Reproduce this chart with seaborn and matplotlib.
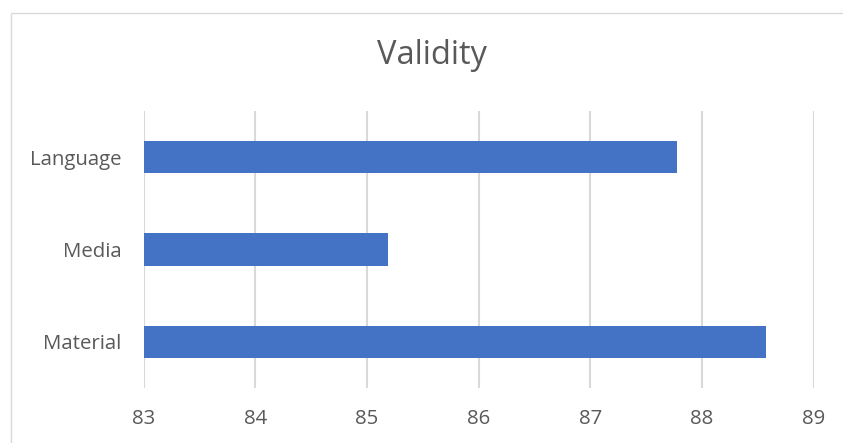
import matplotlib
matplotlib.use("Agg")
import matplotlib.pyplot as plt
import seaborn as sns
import pandas as pd
from matplotlib.patches import Rectangle

categories = ["Language", "Media", "Material"]
values = [87.78, 85.19, 88.57]
x_ticks = [83, 84, 85, 86, 87, 88, 89]
title = "Validity"

df = pd.DataFrame({"category": categories, "value": values})

sns.set_theme(style="white")
plt.rcParams["font.family"] = ["Open Sans", "DejaVu Sans"]

W, H = 843, 443
fig = plt.figure(figsize=(W / 100, H / 100), dpi=100)
ax = fig.add_axes([143.5 / W, 1 - 388 / H, (813.7 - 143.5) / W, (388 - 111) / H])

sns.barplot(data=df, y="category", x="value", orient="h", color="#4472C4",
            saturation=1, width=0.35, ax=ax, order=categories, linewidth=0)

ax.set_xlim(83, 89)
ax.set_ylim(2.5, -0.5)
ax.set_xticks(x_ticks)
ax.set_xticklabels([str(t) for t in x_ticks])
ax.set_xlabel("")
ax.set_ylabel("")
ax.grid(axis="x", color="#D9D9D9", linewidth=1.5)
ax.set_axisbelow(True)
for s in ax.spines.values():
    s.set_visible(False)
ax.tick_params(axis="both", length=0, labelsize=14.7, labelcolor="#595959")
ax.tick_params(axis="x", pad=15)
ax.tick_params(axis="y", pad=16)

fig.text(431.7 / W, 1 - 56 / H, title, ha="center", va="center",
         fontsize=23.5, color="#595959")

fig.patches.append(Rectangle((10.5 / W, -0.1), 1.2, 1 - 12.5 / H + 0.1,
                             transform=fig.transFigure, fill=False,
                             edgecolor="#D9D9D9", linewidth=1.0))

fig.savefig("out.png", dpi=100, facecolor="white")
